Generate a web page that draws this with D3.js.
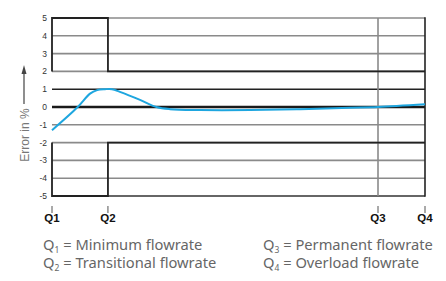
<!DOCTYPE html>
<html><head><meta charset="utf-8">
<script src="https://cdn.jsdelivr.net/npm/d3@7"></script>
<style>body{margin:0;background:#fff}svg{display:block}</style>
</head><body>
<svg id="c" width="446" height="281"></svg>
<script>
// Data
const qNames = ["Q1", "Q2", "Q3", "Q4"];
const qPos = [0, 15, 87.4, 100];
const yTicks = [5, 4, 3, 2, 1, 0, -1, -2, -3, -4, -5];
const upperBound = [[0, 2], [0, 5], [15, 5], [15, 2], [100, 2]];
const lowerBound = [[0, -2], [0, -5], [15, -5], [15, -2], [100, -2]];
const curveX = [0, 6.9, 10.2, 12.1, 14.2, 16.1, 18.2, 23.6, 28, 31.6, 39.7, 53.1, 66.5, 79.9, 87.4, 100];
const curveY = [-1.3, 0, 0.75, 0.95, 1.0, 1.0, 0.85, 0.4, 0, -0.12, -0.17, -0.17, -0.12, -0.04, 0, 0.15];
const legendItems = [
  {sub: "1", text: " = Minimum flowrate", col: 0, row: 0},
  {sub: "2", text: " = Transitional flowrate", col: 0, row: 1},
  {sub: "3", text: " = Permanent flowrate", col: 1, row: 0},
  {sub: "4", text: " = Overload flowrate", col: 1, row: 1}
];

const svg = d3.select("#c");
const x = d3.scaleLinear().domain([0, 100]).range([52, 425]);
const y = d3.scaleLinear().domain([-5, 5]).range([196, 18]);

// grid
const g = svg.append("g");
yTicks.forEach(v => {
  let col = "#8a8a8a", w = 1.6;
  if (v === 0) { col = "#1a1a1a"; w = 2.6; }
  else if (v === 1) { col = "#222"; w = 1.5; }
  else if (v === -5) { col = "#333"; w = 1.6; }
  g.append("line").attr("x1", x(0)).attr("x2", x(100)).attr("y1", y(v)).attr("y2", y(v))
    .attr("stroke", col).attr("stroke-width", w);
});
// Q3 vertical
g.append("line").attr("x1", x(qPos[2])).attr("x2", x(qPos[2])).attr("y1", y(5)).attr("y2", y(-5))
  .attr("stroke", "#8a8a8a").attr("stroke-width", 1.6);
// Q4 border
g.append("line").attr("x1", x(qPos[3])).attr("x2", x(qPos[3])).attr("y1", y(5) - 0.8).attr("y2", y(-5) + 0.8)
  .attr("stroke", "#222").attr("stroke-width", 1.6);

// bounds
const bl = d3.line().x(d => x(d[0])).y(d => y(d[1]));
[upperBound, lowerBound].forEach(b => {
  svg.append("path").attr("d", bl(b)).attr("fill", "none").attr("stroke", "#222").attr("stroke-width", 1.8);
});

// curve
const pts = curveX.map((v, i) => [v, curveY[i]]);
svg.append("path").attr("d", d3.line().x(d => x(d[0])).y(d => y(d[1])).curve(d3.curveCatmullRom)(pts))
  .attr("fill", "none").attr("stroke", "#1ea6df").attr("stroke-width", 2);

// y axis labels
svg.append("g").selectAll("text").data(yTicks).join("text")
  .attr("x", 47).attr("y", d => y(d) + 3)
  .attr("text-anchor", "end").attr("font-family", "Liberation Sans, Arial, sans-serif")
  .attr("font-size", 8.5).attr("fill", "#333").text(d => d);

// x ticks
const xa = svg.append("g");
qPos.forEach((p, i) => {
  xa.append("line").attr("x1", x(p)).attr("x2", x(p)).attr("y1", 206).attr("y2", 213)
    .attr("stroke", "#555").attr("stroke-width", 1);
  xa.append("text").attr("x", x(p)).attr("y", 222).attr("text-anchor", "middle")
    .attr("font-family", "Liberation Sans, Arial, sans-serif").attr("font-weight", "bold")
    .attr("font-size", 11.5).attr("fill", "#111").text(qNames[i]);
});

// y title
svg.append("text").attr("transform", "translate(28.5,135) rotate(-90)")
  .attr("text-anchor", "middle").attr("font-family", "Liberation Sans, Arial, sans-serif")
  .attr("font-size", 12).attr("fill", "#777").text("Error in %");
svg.append("line").attr("x1", 24).attr("x2", 24).attr("y1", 104).attr("y2", 72)
  .attr("stroke", "#444").attr("stroke-width", 1.2);
svg.append("path").attr("d", "M24,65 L21.5,74 L26.5,74 Z").attr("fill", "#444");

// legend
const colX = [43, 263], rowY = [250, 268];
legendItems.forEach(it => {
  const t = svg.append("text").attr("x", colX[it.col]).attr("y", rowY[it.row])
    .attr("font-family", "Noto Sans, sans-serif").attr("font-size", 14.7).attr("fill", "#666");
  t.append("tspan").text("Q");
  t.append("tspan").attr("font-size", 8.5).attr("dy", 3).text(it.sub);
  t.append("tspan").attr("dy", -3).text(it.text);
});
</script>
</body></html>
